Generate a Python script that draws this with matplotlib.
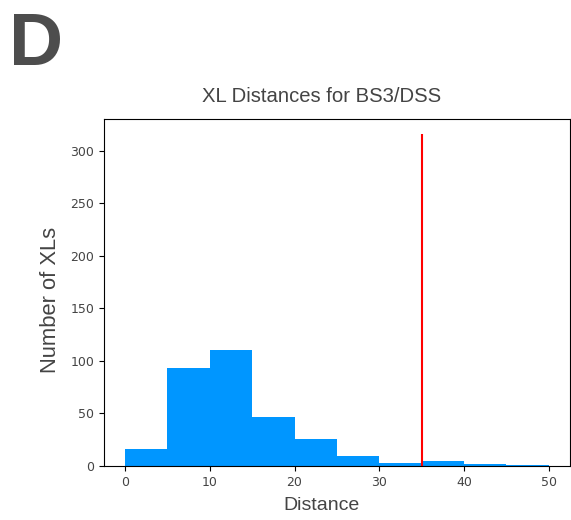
import matplotlib
matplotlib.use("Agg")
import matplotlib.pyplot as plt
import numpy as np

# Histogram of crosslink distances (bin edges / counts)
bin_edges = [0, 5, 10, 15, 20, 25, 30, 35, 40, 45, 50]
counts = [16, 93, 110, 47, 26, 9, 3, 5, 2, 1]
cutoff = 35
cutoff_top = 316

text_grey = "#444444"
label_font = "Liberation Sans"

fig = plt.figure(figsize=(5.71, 5.2), dpi=100)
ax = fig.add_axes([0.182, 0.104, 0.816, 0.667])

edges = np.array(bin_edges)
ax.hist(edges[:-1], bins=edges, weights=counts, color="#0096ff")
ax.vlines(cutoff, 0, cutoff_top, colors="red", linewidth=1.5)

ax.set_xlim(-2.5, 52.5)
ax.set_ylim(0, 330)
ax.set_xticks([0, 10, 20, 30, 40, 50])
ax.set_yticks([0, 50, 100, 150, 200, 250, 300])
ax.tick_params(labelsize=9, colors=text_grey)
ax.tick_params(axis="both", color="black")

ax.set_title("XL Distances for BS3/DSS", fontsize=14.6, color=text_grey,
             pad=12, family=label_font, x=0.468)
ax.set_xlabel("Distance", fontsize=14, color=text_grey, labelpad=6,
              family=label_font, x=0.468)
ax.set_ylabel("Number of XLs", fontsize=15.8, color=text_grey, labelpad=7,
              family=label_font, y=0.478)

fig.text(0.016, 0.875, "D", fontsize=54, fontweight="bold", color="#4d4d4d",
         family=label_font)

fig.savefig("out.png", dpi=100)
